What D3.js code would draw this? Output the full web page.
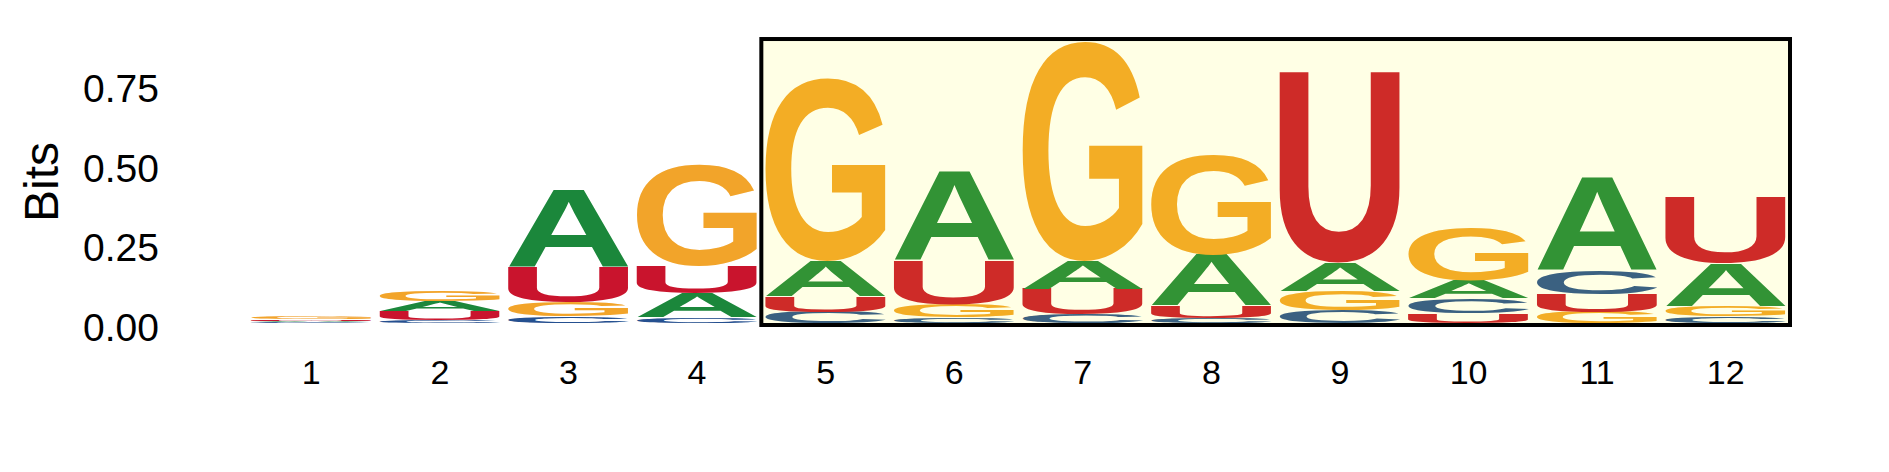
<!DOCTYPE html>
<html>
<head>
<meta charset="utf-8">
<script src="https://cdn.jsdelivr.net/npm/d3@7"></script>
<style>
  body { margin: 0; background: #fff; }
  text { font-family: "Liberation Sans", Arial, sans-serif; }
</style>
</head>
<body>
<div id="logo"></div>
<script>
// Sequence positions and information content (bits) per nucleotide
const positions = [1, 2, 3, 4, 5, 6, 7, 8, 9, 10, 11, 12];
const bitsA = [0.004, 0.032, 0.245, 0.075, 0.11, 0.28, 0.088, 0.16, 0.09, 0.055, 0.29, 0.135];
const bitsC = [0.002, 0.008, 0.02, 0.017, 0.035, 0.017, 0.027, 0.016, 0.04, 0.047, 0.075, 0.02];
const bitsG = [0.009, 0.034, 0.045, 0.32, 0.575, 0.04, 0.69, 0.315, 0.06, 0.165, 0.035, 0.033];
const bitsU = [0.005, 0.028, 0.11, 0.085, 0.05, 0.14, 0.08, 0.038, 0.6, 0.03, 0.055, 0.21];
const yTicks = [0, 0.25, 0.5, 0.75];
const highlight = [5, 12];
const highlightTop = 0.893;

const colors = { A: '#1b873b', C: '#255090', G: '#f2a42a', U: '#c9142d' };

const width = 1889;
const height = 472;

const xScale = d3.scaleBand()
  .domain(positions)
  .range([247, 1790])
  .paddingInner(0.0625)
  .paddingOuter(0.03125);

const yScale = d3.scaleLinear()
  .domain([0, 1])
  .range([323, 5]);

const svg = d3.select('#logo')
  .append('svg')
  .attr('width', width)
  .attr('height', height);

// tight glyph bounds, measured on a canvas
const fontSpec = "bold 200px 'Liberation Sans', Arial, sans-serif";
const ctx = document.createElement('canvas').getContext('2d');
ctx.font = fontSpec;
const glyph = {};
['A', 'C', 'G', 'U'].forEach(ch => {
  const m = ctx.measureText(ch);
  glyph[ch] = {
    left: m.actualBoundingBoxLeft,
    right: m.actualBoundingBoxRight,
    ascent: m.actualBoundingBoxAscent,
    descent: m.actualBoundingBoxDescent
  };
});

// stack letters per position, smallest at bottom
const stacks = positions.map((p, i) => {
  const col = [
    { ch: 'A', v: bitsA[i] },
    { ch: 'C', v: bitsC[i] },
    { ch: 'G', v: bitsG[i] },
    { ch: 'U', v: bitsU[i] }
  ].sort((a, b) => a.v - b.v);
  let acc = 0;
  col.forEach(d => { d.y0 = acc; acc += d.v; d.y1 = acc; d.pos = p; });
  return col;
});

const letters = svg.append('g');
stacks.flat().forEach(d => {
  const g = glyph[d.ch];
  const x0 = xScale(d.pos);
  const w = xScale.bandwidth();
  const yb = yScale(d.y0);
  const h = yScale(d.y0) - yScale(d.y1);
  if (h <= 0) return;
  const sx = w / (g.left + g.right);
  const sy = h / (g.ascent + g.descent);
  letters.append('text')
    .attr('transform', `translate(${x0},${yb}) scale(${sx},${sy}) translate(${g.left},${-g.descent})`)
    .style('font', fontSpec)
    .attr('fill', colors[d.ch])
    .text(d.ch);
});

// highlighted region
const step = xScale.step();
const pad = step * xScale.paddingInner() / 2;
const hx0 = xScale(highlight[0]) - pad;
const hx1 = xScale(highlight[1]) + xScale.bandwidth() + pad;
svg.append('rect')
  .attr('x', hx0)
  .attr('y', yScale(highlightTop))
  .attr('width', hx1 - hx0)
  .attr('height', yScale(0) + 2 - yScale(highlightTop))
  .attr('fill', '#ffff00')
  .attr('fill-opacity', 0.1)
  .attr('stroke', '#000')
  .attr('stroke-width', 4);

// axes
const yAxis = svg.append('g')
  .attr('transform', 'translate(159,0)')
  .call(d3.axisLeft(yScale).tickValues(yTicks).tickFormat(d3.format('.2f')).tickSize(0).tickPadding(0));
yAxis.select('.domain').remove();
yAxis.selectAll('text')
  .attr('dy', '0.44em')
  .style('font-size', '39px')
  .style('font-family', "'Liberation Sans', Arial, sans-serif")
  .attr('fill', '#000');

const xAxis = svg.append('g')
  .attr('transform', 'translate(0,360)')
  .call(d3.axisBottom(xScale).tickSize(0).tickPadding(0));
xAxis.select('.domain').remove();
xAxis.selectAll('text')
  .style('font-size', '34px')
  .style('font-family', "'Liberation Sans', Arial, sans-serif")
  .attr('fill', '#000');

svg.append('text')
  .attr('transform', 'translate(41,182) rotate(-90)')
  .attr('text-anchor', 'middle')
  .attr('dominant-baseline', 'central')
  .style('font-size', '48px')
  .attr('fill', '#000')
  .text('Bits');
</script>
</body>
</html>
